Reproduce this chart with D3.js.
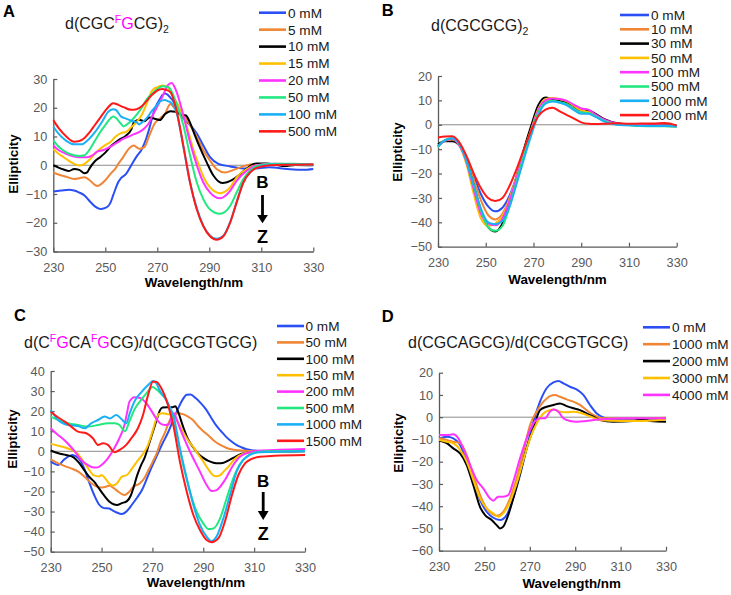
<!DOCTYPE html>
<html><head><meta charset="utf-8">
<script src="https://cdn.jsdelivr.net/npm/d3@7"></script>
<style>body{margin:0;background:#fff}svg{display:block}text{font-family:"Liberation Sans",Arial,sans-serif}</style>
</head><body><svg id="chart" width="731" height="595"></svg>
<script>
// ---------- DATA ----------
const wavelengthTicks = [230, 250, 270, 290, 310, 330];
const yTicksA = [-30, -20, -10, 0, 10, 20, 30];
const yTicksB = [-50, -40, -30, -20, -10, 0, 10, 20];
const yTicksC = [-50, -40, -30, -20, -10, 0, 10, 20, 30, 40];
const yTicksD = [-60, -50, -40, -30, -20, -10, 0, 10, 20];

const legendA = ["0 mM", "5 mM", "10 mM", "15 mM", "20 mM", "50 mM", "100 mM", "500 mM"];
const legendB = ["0 mM", "10 mM", "30 mM", "50 mM", "100 mM", "500 mM", "1000 mM", "2000 mM"];
const legendC = ["0 mM", "50 mM", "100 mM", "150 mM", "200 mM", "500 mM", "1000 mM", "1500 mM"];
const legendD = ["0 mM", "1000 mM", "2000 mM", "3000 mM", "4000 mM"];

const seriesColors = ["#2a4ff5", "#ef8535", "#000000", "#ffc000", "#ff33ff", "#22e87f", "#1ab0f5", "#ff1a1a"];

// Panel A: d(CGC FG CG)2  [wavelength nm, ellipticity]
const a0 = [[230,-9.1],[233,-8.8],[236,-8.5],[238,-8.8],[240,-9.5],[242,-10.5],[244,-12.5],[246,-14.3],[248,-15.2],[250,-14.8],[251,-14.3],[252,-13],[253,-10.5],[254,-8],[255,-5.8],[256,-4.5],[258,-3],[260,0],[262,3],[264,5.5],[265,7.5],[266,10],[267,13],[268,16.5],[269,19.5],[270,21.5],[271,23],[272,24.5],[273,25],[274,24.5],[275,23.5],[276,22.5],[278,19],[280,16.3],[282.6,14],[285.2,11],[287.7,6.9],[290.3,2.8],[293.5,0.5],[298,-0.4],[303,-1.1],[308,-1.1],[313,-0.7],[320,-1.3],[326,-1.6],[330,-1.3]];
const a5 = [[230,-2.5],[232,-3.2],[235,-4],[238,-4.8],[240,-4.5],[242,-4.2],[244,-5.2],[246,-6.8],[247,-7.2],[248,-6.8],[250,-5.2],[252,-3],[254,-1],[255,0.5],[257,3],[259,5.7],[261,6.9],[262,6.3],[263,5.7],[265,6.3],[267,10.5],[269,14.5],[271,16.3],[273,18],[275,21.3],[276,20.5],[278,18.5],[280,17.5],[282.6,14],[285.2,9.8],[287.7,5.2],[290.3,1.6],[292.8,-1.3],[296,-2.5],[299.3,-1.6],[303,-0.4],[308,0.4],[315,0.4],[322,0.3],[330,0.3]];
const a10 = [[230,0],[232,-0.8],[234,-1.5],[236,-2],[238,-1.3],[240,-1.6],[242,-2.8],[243,-2.5],[244,-1],[246,1.4],[248,2.8],[250,4.4],[252,6.5],[255,8.7],[258,10.3],[260,12.5],[261,15],[263,15.8],[265,15.3],[267,16.6],[269,16.2],[271,15.7],[273,17.8],[275,18.8],[277,18.6],[279,17.6],[281,17.3],[282.5,15],[284,11.5],[286,7],[289,1],[291.5,-3.5],[295,-6.2],[299,-5],[302,-3],[305,-0.7],[308,0.6],[312,0.6],[316,0.1],[319,-0.3],[323,0.1],[330,0]];
const a15 = [[230,5.7],[232,4],[234,2.8],[236,1.5],[238,0.5],[240,-0.1],[242,0.5],[244,2],[246,4],[248,5.7],[250,7],[252,8.1],[254,10],[256,11.2],[258,11.6],[260,13.2],[262,15],[264,17.5],[266,21.6],[268,26],[270,27.2],[272,27.7],[274,27],[276,24],[278,21],[280,17],[282,11.5],[284,5],[286,0],[288,-4.5],[290.3,-7.7],[294.1,-9.7],[298,-7.7],[300.5,-4.2],[304.4,-1.3],[308.2,0],[315,0.4],[322,0.3],[330,0.2]];
const a20 = [[230,6.9],[232,5.3],[235,4],[238,3],[240,2.8],[243,2.8],[245,3.4],[247,4.8],[249,5.2],[251,6],[253,7],[255,8.1],[257,9.3],[259,10],[261,10.8],[263,11.5],[265,12.8],[267,15],[268,17],[270,20.4],[272,23.9],[274,27.8],[275.5,28.6],[277,26.5],[280,17.5],[282.6,8],[285.2,0],[287.7,-6],[290.3,-9.5],[294.1,-11.5],[298,-8.9],[300.5,-5.4],[304.4,-1.9],[308.2,0],[315,0.5],[322,0.4],[330,0.3]];
const a50 = [[230,8.7],[232,6.5],[235,4.5],[238,3.5],[240,3.2],[242,3.5],[244,5.5],[246,8.5],[248,11.5],[250,14],[252,16.3],[253,17],[254,16.5],[256,14.5],[257,13.5],[258,14],[260,15.5],[262,17.5],[264,20],[266,23],[268,25],[270,26.5],[272,27.5],[274,27.2],[275,26.5],[277.5,21],[280,14],[282.6,3.4],[285.2,-6],[287.7,-11.8],[290.3,-15.4],[294.1,-16.9],[298,-14.2],[300.5,-9.5],[303.1,-4.8],[306.3,-1.3],[309.5,0],[315,0.5],[322,0.5],[330,0.3]];
const a100 = [[230,13.4],[232,11],[235,8.5],[238,7.3],[241,7.3],[243,8.5],[246,11.5],[249,15.5],[251,18.5],[253,19.5],[254,19.3],[256,17],[258,16.2],[260,15.5],[262,15],[263,14.2],[264,14.8],[266,16.5],[268,19],[270,21],[271,22.2],[273,22.7],[274,22.3],[275,22],[277.5,18],[280,6.5],[282.6,-6],[285.2,-15],[287.7,-21],[290.3,-24.5],[292.8,-25.6],[295.4,-24.5],[298,-19.8],[300.5,-12.8],[303.1,-6],[305.7,-2.5],[308.2,-0.8],[313,0.2],[320,0.3],[330,0.2]];
const a500 = [[230,15.7],[232,13],[235,10],[238,8.2],[240,8.4],[242,9.5],[244,11.5],[246,14],[248,16.5],[250,19],[252,21],[253,21.6],[255,21],[257,20.2],[260,19.3],[262,19.5],[264,20.5],[266,22.5],[268,24.5],[270,26],[272,26.5],[273,26.3],[275,25.5],[277.5,18.6],[280,6.9],[282.6,-6],[285.2,-15.4],[287.7,-21.2],[290.3,-24.7],[292.8,-25.9],[295.4,-24.7],[298,-20],[300.5,-13],[303.1,-6],[305.7,-2.5],[308.2,-0.9],[313.4,0],[320,0.2],[330,0.3]];

// Panel B: d(CGCGCG)2 on a shared wavelength grid
const wavelengthB = [230,233,236,239,242,245,248,251,254,257,260,263,266,269,272,275,278,281,284,287,290,293,296,300,305,310,315,320,325,330];
const b0 = [-8.8,-6.5,-6.2,-8,-13.5,-21,-28.5,-33.5,-35.5,-34,-29,-21,-11.5,-2.5,5,9,10,9.5,8.8,7,5.8,5.5,4,1.8,0.4,0,-0.2,-0.2,-0.3,-0.5];
const b10 = [-8.5,-6.5,-6.2,-8,-14,-22.5,-31,-37,-38.8,-36.5,-30,-21,-11.5,-2.5,5.2,9.5,10.5,10,9.2,7.5,6.2,5.8,4.2,2,0.4,0,-0.2,-0.3,-0.3,-0.5];
const b30 = [-8,-6.8,-6.8,-8.5,-15,-25,-35,-42,-43.8,-40.5,-32,-21,-10,-0.5,8,11.2,10.5,9.8,9.2,7.8,6.3,6,4.5,2.2,0.6,0.1,-0.3,-0.3,-0.4,-0.5];
const b50 = [-9,-6.5,-6,-8.5,-16.5,-28.5,-38.5,-41.5,-40.5,-37.5,-30.5,-21,-11,-2,6.5,10.5,11,10.5,9.6,7.8,6,5.2,3.8,1.6,0.2,-0.1,-0.3,-0.4,-0.5,-0.7];
const b100 = [-9,-6.5,-5.8,-8.5,-15.5,-26.5,-36.5,-40.5,-41.2,-38.5,-31,-21.5,-11.5,-2.5,6,10,10.8,10.6,9.8,8.2,6.7,6.2,4.2,2,0.5,0,-0.2,-0.3,-0.4,-0.6];
const b500 = [-9.2,-6.2,-5.5,-8,-15,-25,-35,-42,-43.5,-41.5,-33.5,-23,-12.5,-3,5,9,9.8,9.3,8.5,6.5,5,4.8,3.5,1.5,0.1,-0.2,-0.5,-0.6,-0.6,-0.8];
const b1000 = [-8.8,-6.3,-5.5,-8,-15,-25,-34.5,-40,-40.8,-39.5,-33.5,-24,-14,-4.5,4,8.7,9.5,9,8,6,4.5,4.5,3.2,1.2,0,-0.2,-0.4,-0.5,-0.5,-0.7];
const b2000 = [-5.2,-4.8,-4.7,-7.3,-13,-20,-26,-30,-31.3,-30,-25,-18,-10,-2.5,3.5,6.2,7,5.5,4,2.5,1,0.4,0.3,0.4,0.6,0.4,0.5,0.5,0.7,-0.3];

// Panel C: d(C FG CA FG CG)/d(CGCGTGCG)
const c0 = [[230,-5],[232,-6.5],[233,-6.8],[235,-4.5],[237,-2.5],[238.5,-1.8],[240,-2.5],[241,-3.5],[243,-8],[245,-15],[247,-21.5],[249,-26.5],[251,-28.3],[253,-28.5],[254,-29.2],[256,-30.5],[258,-31.2],[260,-29.7],[262,-26.5],[264,-23],[266,-19],[268,-13],[270,-7],[272,-1.5],[274,4],[276,9],[278,15],[280,21],[282,26],[283.5,28.2],[285,28.3],[287,26.5],[289,24],[291,21],[293,17],[295,13],[297,10],[299,7.2],[301,5],[303,3.2],[305,2],[307,1],[310,0.4],[313,0.2],[320,0.1],[330,0.1]];
const c50 = [[230,-4],[233,-6],[236,-7.6],[238,-8.5],[241,-10.2],[244,-13.5],[246,-15.9],[248,-17.5],[250,-18],[252,-17.5],[253,-17],[255,-18.5],[257,-20.5],[259,-21.8],[261,-20],[262.5,-17.6],[265,-16],[267,-13],[268,-10.5],[270,-5.5],[272,0],[273,4],[275,9.5],[276,13],[278,18],[280,19],[282,18.5],[284,17.3],[286,15.5],[288,12.5],[290,10],[292.5,7.3],[294.5,5],[296.5,3.3],[299,1.8],[301,1],[304,0.5],[308,0.2],[330,0.1]];
const c100 = [[230,0.5],[233,-1],[236,-1.8],[239,-3],[241,-5.5],[243,-9],[245,-12.5],[247,-15],[249,-18.5],[251,-22],[253,-25],[255,-26.5],[256,-26.7],[258,-25.8],[260,-24.8],[261.5,-22],[262.5,-18.4],[264,-12],[265.5,-7],[267,-3],[268.5,3],[270,9],[271,13],[272,17],[273,20.5],[274,21.8],[276,22],[278,22],[279,22.5],[280,20],[282,12.5],[284,6],[286,2],[288,-1.2],[290,-3.3],[292,-4.8],[294,-5.7],[296,-6],[298,-5.7],[300,-4.5],[302,-3.2],[304,-1.8],[306,-1],[308,-0.5],[312,-0.2],[320,-0.1],[330,0]];
const c150 = [[230,3.7],[233,2.8],[236,1.8],[238,0.8],[240,-0.5],[242,-3.5],[244.5,-8],[247,-12],[249,-12.5],[250,-11.8],[251,-12.8],[253,-16],[254.5,-17],[256,-16],[258,-12.6],[260,-11.8],[262,-8.5],[264,-5],[266,-1.8],[268,2.3],[270,9.8],[271.5,16],[272.5,18.5],[274,19],[276,18.5],[277,18.3],[279,16.5],[282,9.8],[284,5.5],[286,2.3],[288,-1.5],[290,-5.1],[292,-9],[293.5,-11.5],[295,-12.4],[296.5,-12],[298,-10.1],[300,-7.5],[302,-4.3],[304,-2.2],[306,-1],[309,-0.3],[315,0],[330,0.2]];
const c200 = [[230,11.5],[233,8],[235,6],[237,3.5],[239.5,-0.2],[242,-4.3],[244.5,-6.8],[247,-8.1],[248.5,-8],[250,-6.8],[252.5,-3.5],[255,1.5],[257,6.5],[259,13.1],[260,19],[261,24.8],[263,26.9],[265.5,26.4],[267,24.8],[269,21.4],[271,17.3],[273,14],[275,13.1],[276.5,13.5],[277.5,17],[278.5,19],[279.5,16],[280.8,11.5],[284.8,-0.2],[288.7,-10.1],[291.3,-16.8],[293.3,-19.8],[295.2,-19.3],[298.5,-14.3],[301.8,-6.8],[304.4,-2.7],[308.3,-0.5],[312,0.3],[320,0.8],[330,1.2]];
const c500 = [[230,17.3],[233,15.6],[236.8,14],[240.7,13.1],[244.7,12.3],[248.6,13.1],[252.5,14],[255.2,14],[257.1,13.1],[259.2,10],[261,15],[263,21],[265.5,25.5],[268,29.5],[270,32],[271.5,31],[273.5,28.5],[275.5,25.5],[277,21],[279.5,8.1],[282.1,-6.8],[284.8,-20.1],[287.4,-30.1],[290,-35.9],[292,-38.7],[294,-38.4],[296.6,-33.4],[299.2,-23.4],[301.8,-13.5],[304.4,-6.5],[307,-2.7],[310,-0.7],[315,0],[330,0.2]];
const c1000 = [[230,20.6],[232.9,15.6],[236.8,13.1],[240.7,12.6],[243.4,11.5],[246,14],[248.6,15.6],[251.2,17.3],[253.2,16.4],[255.8,18.1],[257.8,16.1],[259.7,14],[261.1,19],[263,25],[265.7,29.5],[268.3,33],[270.2,35],[271.5,34],[273,30],[275,26.5],[277,21.5],[278.2,18.1],[280.8,1.5],[283.5,-13.5],[286.1,-26.7],[288.7,-36.7],[291.3,-42.5],[293.3,-44.7],[295.2,-42.5],[297.9,-33.4],[300.5,-21.8],[303.1,-10.1],[305.7,-4.3],[308.3,-1.8],[312,-0.5],[330,0]];
const c1500 = [[230,19.8],[231.6,18.1],[235.5,14.8],[238.1,12.3],[240.7,9.8],[244,9],[246.6,6.5],[248.6,3.2],[250.6,4],[252.5,3.2],[255.2,-0.5],[257.1,0.7],[259.7,3.2],[261.7,6.5],[264.3,11.5],[266.3,18.1],[268.3,28.1],[270.2,34.7],[271.5,34.7],[273.5,31.4],[276.1,23.1],[278.2,13.1],[280.8,-5.1],[283.5,-20.1],[286.1,-31.7],[288.7,-39.2],[291.3,-44.2],[293.3,-45.3],[295.9,-43.4],[298.5,-35],[301.1,-22.6],[303.8,-11.8],[306.4,-6],[309,-3.8],[312.3,-2.7],[318,-2.2],[330,-1.8]];

// Panel D: d(CGCAGCG)/d(CGCGTGCG)
const d0 = [[230,-9.5],[233.4,-8.8],[236.3,-9.5],[239.3,-12.5],[242.2,-20],[245.1,-29],[248.1,-37.2],[251,-42.5],[253.9,-45.2],[256.9,-46.2],[259.8,-44],[262.7,-36.5],[265.7,-26],[268.6,-14],[271.6,-2],[274.5,7],[277.4,13],[280.4,15.6],[282.6,16.3],[284.8,15.2],[287.7,13.7],[290.6,12.5],[293.6,10],[296.5,5.5],[299.5,1.7],[302.4,-0.1],[305.3,-0.8],[309.7,-1.3],[315,-1.3],[321.5,-0.8],[330,-0.8]];
const d1000 = [[230,-9.5],[233.4,-10.2],[236.3,-11],[239.3,-11.7],[242.2,-17],[245.1,-26],[248.1,-35],[251,-41],[253.9,-43.7],[255.4,-44.3],[258.3,-42.5],[261.3,-36.5],[264.2,-27.5],[267.2,-15.5],[270.1,-3.5],[273,2.5],[276,7],[278.9,9.5],[281.1,10],[283.3,9.2],[286.2,8],[289.2,7],[292.1,5.5],[295,3.2],[298,1],[300.9,-0.2],[306.8,-0.5],[315,-0.6],[330,-0.2]];
const d2000 = [[230,-10.5],[233.4,-11.7],[236.3,-14],[239.3,-16.3],[242.2,-21.5],[245.1,-30.5],[248.1,-40.4],[250.3,-44],[253.2,-46.2],[255.4,-48.5],[256.9,-50],[258.3,-49.2],[260.5,-44],[262.7,-36.5],[265.7,-25.2],[268.6,-14],[271.6,-5],[274.5,3.2],[277.4,4.7],[280.4,5.5],[283.3,6.2],[286.2,5],[289.2,4],[292.1,3.2],[295,1.7],[298,0.2],[300.9,-1.3],[306.8,-2],[315.6,-1.7],[320,-0.8],[323,-1.7],[330,-2]];
const d3000 = [[230,-10.2],[233.4,-11],[236.3,-11.7],[239.3,-14.7],[242.2,-20],[245.1,-28.2],[248.1,-36.5],[251,-41],[253.9,-43.2],[256.1,-44.7],[258.3,-43.2],[261.3,-38],[264.2,-29.7],[267.2,-19.2],[270.1,-9.5],[273,-2.8],[276,1.7],[278.9,3.2],[280.4,3.5],[283.3,2.5],[286.2,2.2],[289.2,2.5],[292.1,2],[295,1],[298,-0.2],[300.9,-1.3],[309.7,-1.7],[317.1,-1.7],[330,-1]];
const d4000 = [[230,-8],[233.4,-8],[236.3,-7.7],[238.5,-9.5],[240.7,-14],[243.7,-21.5],[246.6,-28.2],[249.5,-32],[252.5,-36.5],[253.9,-37.5],[256.1,-35.7],[258.3,-35.7],[260.5,-35],[262.7,-29],[265.7,-18.5],[268.6,-9.5],[271.6,-2.8],[274.5,-0.5],[276.7,-0.5],[278.9,2.5],[280.4,3.5],[282.6,2.5],[284.8,-0.5],[287.7,-1.7],[290.6,-2],[295,-1.7],[298,-1.3],[303.9,-0.8],[312.7,-0.5],[330,-0.5]];

const titleA = [["d(CGC","n"],["F","sup"],["G","m"],["CG)","n"],["2","sub"]];
const titleB = [["d(CGCGCG)","n"],["2","sub"]];
const titleC = [["d(C","n"],["F","sup"],["G","m"],["CA","n"],["F","sup"],["G","m"],["CG)/d(CGCGTGCG)","n"]];
const titleD = [["d(CGCAGCG)/d(CGCGTGCG)","n"]];

// ---------- DRAWING ----------
const svg = d3.select("#chart");
const toPairs = (xs, ys) => xs.map((v, i) => [v, ys[i]]);

const panels = [
  {letter:"A", lp:[3,16.7], box:{x0:53.3,x1:313.3,y0:79,y1:251.5}, yd:[-30,30], yt:yTicksA,
   series:[a0,a5,a10,a15,a20,a50,a100,a500], labels:legendA,
   leg:{x1:259,x2:286,tx:288,y0:12.7,dy:16.95}, title:titleA, tp:[65,29.3],
   xt:[194,287], ytl:[18.3,164], arrow:{x:262.5,b:188.3,s0:195,h0:215,h1:223.3,z:243}},
  {letter:"B", lp:[381.7,16], box:{x0:438,x1:676.7,y0:76,y1:246.7}, yd:[-50,20], yt:yTicksB,
   series:[b0,b10,b30,b50,b100,b500,b1000,b2000].map(v=>toPairs(wavelengthB,v)), labels:legendB,
   leg:{x1:620,x2:649,tx:651,y0:15,dy:14.3}, title:titleB, tp:[431,31],
   xt:[557.5,283.5], ytl:[401.5,152]},
  {letter:"C", lp:[14,321], box:{x0:50.7,x1:305,y0:371,y1:551.7}, yd:[-50,40], yt:yTicksC,
   series:[c0,c50,c100,c150,c200,c500,c1000,c1500], labels:legendC,
   leg:{x1:277,x2:304,tx:305.5,y0:326,dy:16.4}, title:titleC, tp:[24,347.5],
   xt:[196,587], ytl:[16.5,439], arrow:{x:263.2,b:487,s0:492,h0:511,h1:520,z:540}},
  {letter:"D", lp:[381.7,322], box:{x0:439,x1:666,y0:372.7,y1:550.7}, yd:[-60,20], yt:yTicksD,
   series:[d0,d1000,d2000,d3000,d4000], labels:legendD,
   leg:{x1:643,x2:670,tx:672,y0:327.3,dy:16.9}, title:titleD, tp:[408,348],
   xt:[571.7,587.5], ytl:[403,443]}
];

function drawPanel(p){
  const g = svg.append("g");
  const x = d3.scaleLinear().domain([230,330]).range([p.box.x0,p.box.x1]);
  const y = d3.scaleLinear().domain(p.yd).range([p.box.y1,p.box.y0]);

  g.append("line").attr("x1",x(230)).attr("x2",x(330)).attr("y1",y(0)).attr("y2",y(0))
    .attr("stroke","#8c8c8c").attr("stroke-width",1);

  const ax = g.append("g").attr("transform",`translate(0,${p.box.y1})`)
    .call(d3.axisBottom(x).tickValues(wavelengthTicks).tickSizeInner(-4).tickSizeOuter(0).tickPadding(11));
  const ay = g.append("g").attr("transform",`translate(${p.box.x0},0)`)
    .call(d3.axisLeft(y).tickValues(p.yt).tickSizeInner(-4).tickSizeOuter(0).tickPadding(6));
  [ax,ay].forEach(a=>{
    a.select(".domain").attr("stroke","#5a5a5a").attr("stroke-width",1.3);
    a.selectAll(".tick line").attr("stroke","#5a5a5a").attr("stroke-width",1.2);
    a.selectAll(".tick text").attr("fill","#595959").attr("font-size","12.7px")
      .attr("font-family","'Liberation Sans', Arial, sans-serif");
  });

  const line = d3.line().x(d=>x(d[0])).y(d=>y(d[1])).curve(d3.curveMonotoneX);
  p.series.forEach((s,i)=>{
    g.append("path").datum(s).attr("d",line).attr("fill","none")
      .attr("stroke",seriesColors[i]).attr("stroke-width",2).attr("stroke-linejoin","round");
  });

  p.labels.forEach((lab,i)=>{
    const yy = p.leg.y0 + i*p.leg.dy;
    g.append("line").attr("x1",p.leg.x1).attr("x2",p.leg.x2).attr("y1",yy).attr("y2",yy)
      .attr("stroke",seriesColors[i]).attr("stroke-width",2.6);
    g.append("text").attr("x",p.leg.tx).attr("y",yy).attr("dy","0.36em")
      .attr("font-size","13.6px").attr("fill","#1a1a1a").text(lab);
  });

  g.append("text").attr("x",p.lp[0]).attr("y",p.lp[1]).attr("font-size","16.5px")
    .attr("font-weight","bold").attr("fill","#000").text(p.letter);

  const t = g.append("text").attr("x",p.tp[0]).attr("y",p.tp[1]).attr("font-size","16px").attr("fill","#1a1a1a");
  let shift = 0;
  p.title.forEach(([txt,kind])=>{
    let target = 0, fs = "16px", fill = "#1a1a1a";
    if(kind==="sup"){ target = -6; fs = "10.5px"; fill = "#ff00ff"; }
    if(kind==="sub"){ target = 4; fs = "10.5px"; }
    if(kind==="m"){ fill = "#ff00ff"; }
    t.append("tspan").attr("dy",target-shift).attr("font-size",fs).attr("fill",fill).text(txt);
    shift = target;
  });

  g.append("text").attr("x",p.xt[0]).attr("y",p.xt[1]).attr("text-anchor","middle")
    .attr("font-size","13.4px").attr("font-weight","bold").attr("fill","#000").text("Wavelength/nm");
  g.append("text").attr("transform",`translate(${p.ytl[0]},${p.ytl[1]}) rotate(-90)`)
    .attr("text-anchor","middle").attr("font-size","13.4px").attr("font-weight","bold")
    .attr("fill","#000").text("Ellipticity");

  if(p.arrow){
    const a = p.arrow;
    g.append("text").attr("x",a.x).attr("y",a.b).attr("text-anchor","middle")
      .attr("font-size","17px").attr("font-weight","bold").text("B");
    g.append("line").attr("x1",a.x).attr("x2",a.x).attr("y1",a.s0).attr("y2",a.h0+1)
      .attr("stroke","#000").attr("stroke-width",2.8);
    g.append("path").attr("d",`M${a.x-5.4},${a.h0}L${a.x+5.4},${a.h0}L${a.x},${a.h1}Z`).attr("fill","#000");
    g.append("text").attr("x",a.x).attr("y",a.z).attr("text-anchor","middle")
      .attr("font-size","18px").attr("font-weight","bold").text("Z");
  }
}
panels.forEach(drawPanel);
</script></body></html>
